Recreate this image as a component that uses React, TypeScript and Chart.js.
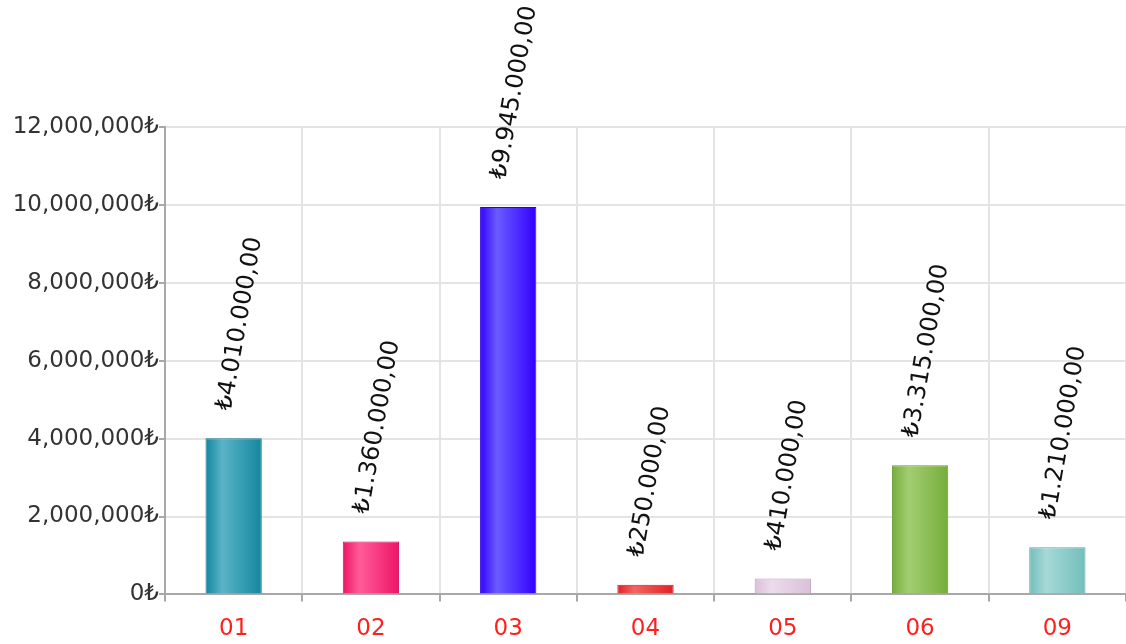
import React, { useEffect, useRef } from "react";
import { Chart, registerables } from "chart.js";

Chart.register(...registerables);

// Monthly amounts by period code
const categories = ["01", "02", "03", "04", "05", "06", "09"];
const amounts = [4010000, 1360000, 9945000, 250000, 410000, 3315000, 1210000];
const yTickValues = [0, 2000000, 4000000, 6000000, 8000000, 10000000, 12000000];

// Bar shading: edge tone, highlight tone, outline
const edgeColors = ["#14869e", "#ee1468", "#3300ff", "#e41f22", "#dac0da", "#76ae3a", "#72bebb"];
const glowColors = ["#5ab4c7", "#ff5c98", "#6a5cff", "#f26464", "#ecdcec", "#a2cd72", "#a6d9d7"];
const borderColors = ["#127a90", "#d61060", "#2a00e0", "#c81a1a", "#b89cb8", "#689c32", "#60a8a6"];

const FONT = "'DejaVu Sans', sans-serif";

function groupThousands(n: number, sep: string): string {
  const s = Math.round(n).toString();
  return s.replace(/\B(?=(\d{3})+(?!\d))/g, sep);
}

function axisLabel(n: number): string {
  return groupThousands(n, ",") + "₺";
}

function valueLabel(n: number): string {
  return "₺" + groupThousands(n, ".") + ",00";
}

const valueLabelPlugin = {
  id: "valueLabels",
  afterDatasetsDraw(chart: any) {
    const ctx = chart.ctx;
    const meta = chart.getDatasetMeta(0);
    ctx.save();
    ctx.font = `24px ${FONT}`;
    ctx.fillStyle = "#111111";
    ctx.textAlign = "left";
    ctx.textBaseline = "middle";
    meta.data.forEach((el: any, i: number) => {
      ctx.save();
      ctx.translate(el.x - 9, el.y - 28);
      ctx.rotate((-80 * Math.PI) / 180);
      ctx.fillText(valueLabel(amounts[i]), 0, 0);
      ctx.restore();
    });
    ctx.restore();
  },
};

export default function App() {
  const canvasRef = useRef<HTMLCanvasElement | null>(null);

  useEffect(() => {
    if (!canvasRef.current) return;
    const chart = new Chart(canvasRef.current, {
      type: "bar",
      data: {
        labels: categories,
        datasets: [
          {
            data: amounts,
            backgroundColor: (c: any) => {
              const i = c.dataIndex;
              if (i === undefined) return edgeColors[0];
              const ch = c.chart;
              const xs = ch.scales && ch.scales.x;
              if (!xs || !ch.chartArea) return edgeColors[i];
              const cx = xs.getPixelForValue(i);
              const step = xs.getPixelForValue(1) - xs.getPixelForValue(0);
              const bw = step * 0.41;
              const g = ch.ctx.createLinearGradient(cx - bw / 2, 0, cx + bw / 2, 0);
              g.addColorStop(0, edgeColors[i]);
              g.addColorStop(0.3, glowColors[i]);
              g.addColorStop(1, edgeColors[i]);
              return g;
            },
            borderColor: borderColors,
            borderWidth: 1,
            categoryPercentage: 1,
            barPercentage: 0.41,
          },
        ],
      },
      options: {
        animation: false,
        responsive: true,
        maintainAspectRatio: false,
        layout: { padding: { top: 127, left: 0, right: 0, bottom: 0 } },
        plugins: {
          legend: { display: false },
          tooltip: { enabled: false },
        },
        scales: {
          x: {
            offset: true,
            grid: {
              offset: true,
              color: "#e4e4e4",
              lineWidth: 2,
              tickLength: 7,
              tickColor: "#a8a8a8",
              tickWidth: 2,
            },
            border: { color: "#a8a8a8", width: 2 },
            ticks: {
              color: "#ff1f1f",
              font: { family: FONT, size: 23 },
              padding: 14,
            },
          },
          y: {
            min: 0,
            max: 12000000,
            afterFit: (s: any) => {
              s.width = 165;
            },
            afterBuildTicks: (s: any) => {
              s.ticks = yTickValues.map((v) => ({ value: v }));
            },
            grid: {
              color: "#e4e4e4",
              lineWidth: 2,
              tickLength: 6,
              tickColor: "#a8a8a8",
              tickWidth: 2,
            },
            border: { color: "#a8a8a8", width: 2 },
            ticks: {
              color: "#333333",
              font: { family: FONT, size: 23 },
              padding: 0,
              callback: (v: any) => axisLabel(Number(v)),
            },
          },
        },
      },
      plugins: [valueLabelPlugin],
    });
    return () => chart.destroy();
  }, []);

  return (
    <div
      style={{
        position: "fixed",
        left: 0,
        top: 0,
        width: 1126,
        height: 644,
        overflow: "hidden",
        background: "#ffffff",
      }}
    >
      <div style={{ position: "relative", width: 1126, height: 657 }}>
        <canvas ref={canvasRef} />
      </div>
    </div>
  );
}
